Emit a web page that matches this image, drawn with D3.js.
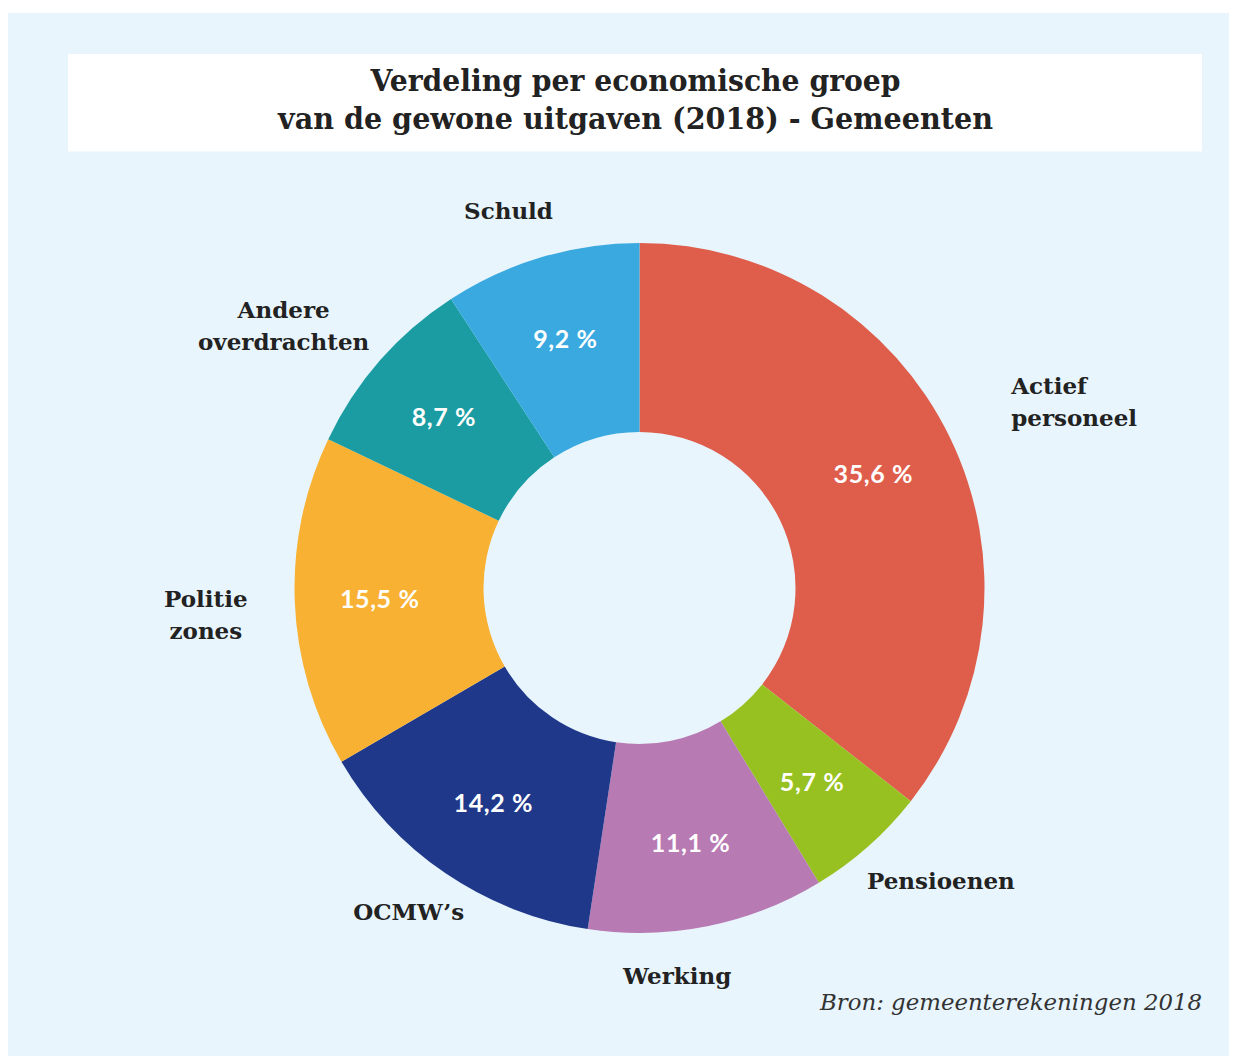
<!DOCTYPE html>
<html lang="nl">
<head>
<meta charset="utf-8">
<title>Verdeling per economische groep van de gewone uitgaven (2018) - Gemeenten</title>
<script src="https://cdn.jsdelivr.net/npm/d3@7"></script>
<style>
  html, body { margin: 0; padding: 0; background: #ffffff; }
  svg { display: block; }
</style>
</head>
<body>
<svg id="chart" width="1237" height="1059"></svg>
<script>
// Expenditure groups, clockwise from 12 o'clock
const categories = ["Actief personeel", "Pensioenen", "Werking", "OCMW\u2019s", "Politie zones", "Andere overdrachten", "Schuld"];
const shares = [35.6, 5.7, 11.1, 14.2, 15.5, 8.7, 9.2];
const shareLabels = ["35,6 %", "5,7 %", "11,1 %", "14,2 %", "15,5 %", "8,7 %", "9,2 %"];
const titleLines = ["Verdeling per economische groep", "van de gewone uitgaven (2018) - Gemeenten"];
const sourceNote = "Bron: gemeenterekeningen 2018";

const colors = ["#df5e4b", "#97c120", "#b77ab3", "#20388a", "#f8b133", "#1a9ca2", "#3aa9e0"];

// Line breaks and placement tweaks for the outer category labels
const labelLayout = {
  "Actief personeel":    { lines: ["Actief", "personeel"], anchor: "start",  dx: 12,  dy: -12 },
  "Pensioenen":          { lines: ["Pensioenen"],          anchor: "middle", dx: 36,  dy: -7 },
  "Werking":             { lines: ["Werking"],             anchor: "middle", dx: -41, dy: -5 },
  "OCMW\u2019s":         { lines: ["OCMW\u2019s"],         anchor: "middle", dx: -6,  dy: -7 },
  "Politie zones":       { lines: ["Politie", "zones"],    anchor: "middle", dx: -34, dy: 10 },
  "Andere overdrachten": { lines: ["Andere", "overdrachten"], anchor: "middle", dx: -55, dy: 1 },
  "Schuld":              { lines: ["Schuld"],              anchor: "middle", dx: -17, dy: 6 }
};

const W = 1237, H = 1059;
const cx = 639.5, cy = 588;
const outerR = 345, innerR = 156;
const pctR = 260, catR = 400;

const svg = d3.select("#chart");
const serif = "'DejaVu Serif', 'Liberation Serif', serif";

// Panel background
svg.append("rect").attr("x", 0).attr("y", 0).attr("width", W).attr("height", H).attr("fill", "#ffffff");
svg.append("rect").attr("x", 8).attr("y", 13).attr("width", W - 16).attr("height", H - 16).attr("fill", "#e8f5fd");

// Title box
svg.append("rect").attr("x", 68).attr("y", 54).attr("width", 1134).attr("height", 97.5).attr("fill", "#ffffff");
const titleWidths = [530, 715];
titleLines.forEach((line, i) => {
  svg.append("text")
    .attr("x", 635.5)
    .attr("y", 91 + i * 38)
    .attr("text-anchor", "middle")
    .attr("font-family", serif)
    .attr("font-weight", "bold")
    .attr("font-size", 29)
    .attr("fill", "#222222")
    .attr("textLength", titleWidths[i])
    .attr("lengthAdjust", "spacingAndGlyphs")
    .text(line);
});

// Donut
const pie = d3.pie().sort(null).value(d => d.value);
const arcs = pie(categories.map((c, i) => ({ name: c, value: shares[i], label: shareLabels[i], color: colors[i] })));
const arc = d3.arc().innerRadius(innerR).outerRadius(outerR);
const pctArc = d3.arc().innerRadius(pctR).outerRadius(pctR);
const catArc = d3.arc().innerRadius(catR).outerRadius(catR);

const g = svg.append("g").attr("transform", `translate(${cx},${cy})`);

g.selectAll("path.slice")
  .data(arcs)
  .join("path")
  .attr("class", "slice")
  .attr("d", arc)
  .attr("fill", d => d.data.color);

// Percentages inside the ring
g.selectAll("text.pct")
  .data(arcs)
  .join("text")
  .attr("class", "pct")
  .attr("transform", d => {
    const [x, y] = pctArc.centroid(d);
    return `translate(${x},${y + 9})`;
  })
  .attr("text-anchor", "middle")
  .attr("font-family", "Lato, 'Open Sans', sans-serif")
  .attr("font-weight", "bold")
  .attr("font-size", 25)
  .attr("letter-spacing", 0.6)
  .attr("fill", "#ffffff")
  .text(d => d.data.label);

// Category names around the ring
const fs = 23, lineH = 32, capH = fs * 0.73;
arcs.forEach(d => {
  const lay = labelLayout[d.data.name];
  const [px, py] = catArc.centroid(d);
  const x = px + lay.dx;
  const yc = py + lay.dy;
  const firstBase = yc - (lay.lines.length - 1) * lineH / 2 + capH / 2;
  const t = g.append("text")
    .attr("text-anchor", lay.anchor)
    .attr("font-family", serif)
    .attr("font-weight", "bold")
    .attr("font-size", fs)
    .attr("fill", "#222222");
  lay.lines.forEach((ln, i) => {
    t.append("tspan").attr("x", x).attr("y", firstBase + i * lineH).text(ln);
  });
});

// Source
svg.append("text")
  .attr("x", 1202)
  .attr("y", 1010)
  .attr("text-anchor", "end")
  .attr("font-family", serif)
  .attr("font-style", "italic")
  .attr("font-size", 22)
  .attr("fill", "#333333")
  .attr("textLength", 382)
  .attr("lengthAdjust", "spacingAndGlyphs")
  .text(sourceNote);
</script>
</body>
</html>
